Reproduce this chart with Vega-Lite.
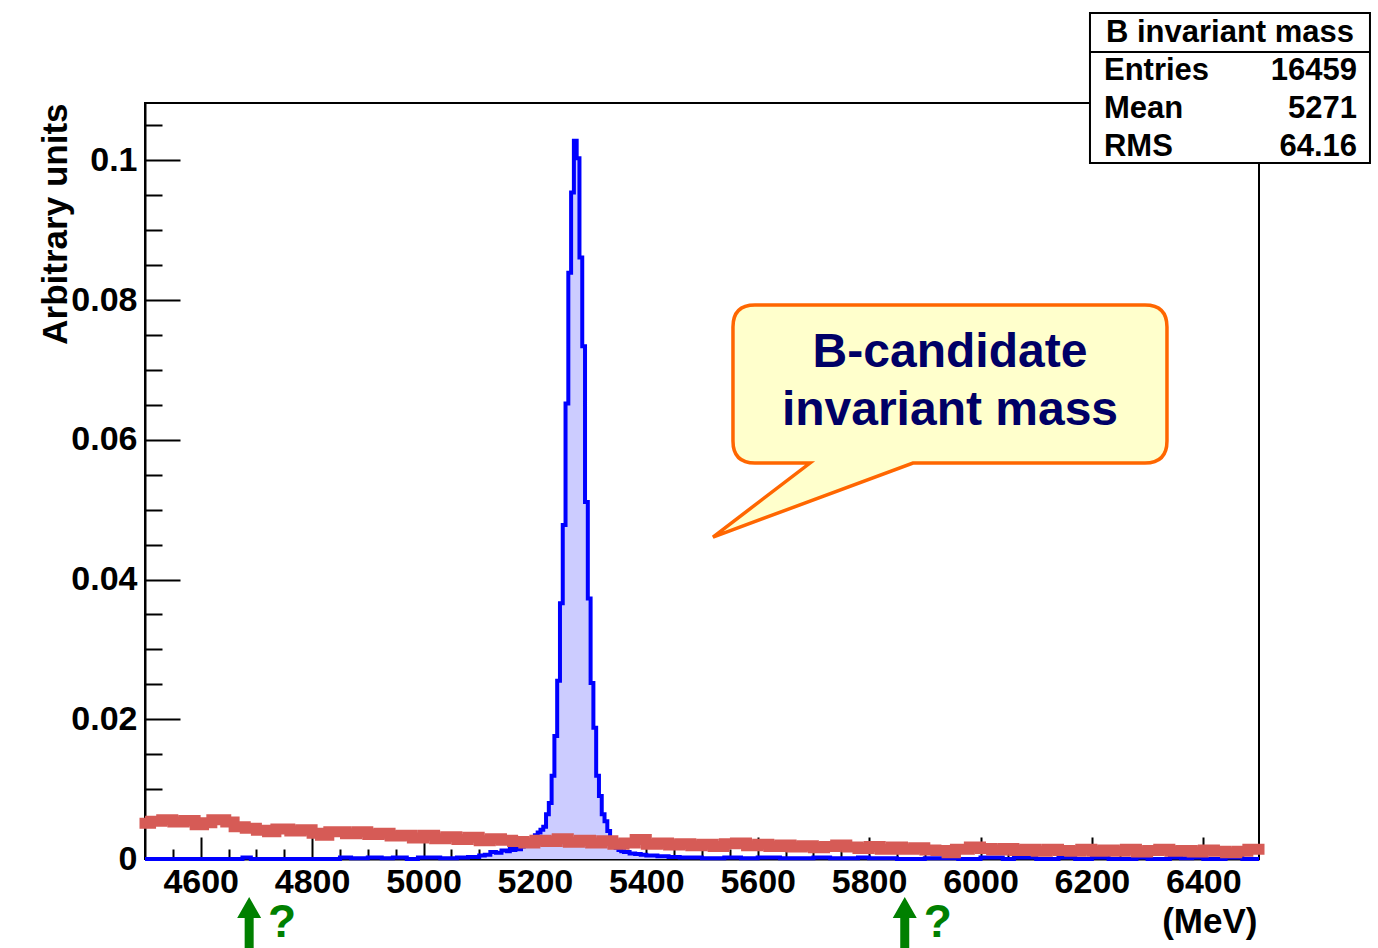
{
  "$schema": "https://vega.github.io/schema/vega-lite/v6.json",
  "width": 1114,
  "height": 756,
  "autosize": "none",
  "padding": {"left": 145, "top": 103, "right": 119, "bottom": 89},
  "background": "white",
  "config": {
    "font": "Liberation Sans",
    "view": {"stroke": "black", "strokeWidth": 2},
    "axis": {
      "grid": false,
      "domainColor": "black",
      "domainWidth": 2,
      "tickColor": "black",
      "tickWidth": 2,
      "labelFont": "Liberation Sans",
      "labelFontWeight": "bold",
      "labelFontSize": 34,
      "labelColor": "black",
      "labelOverlap": false,
      "labelFlush": false,
      "titleFont": "Liberation Sans",
      "titleFontWeight": "bold",
      "titleFontSize": 35,
      "titleColor": "black",
      "zindex": 1
    }
  },
  "datasets": {
    "signal": [
      {"mass": 4500, "content": 0},
      {"mass": 4675, "content": 0.0002},
      {"mass": 4690, "content": 0},
      {"mass": 4850, "content": 0.0002},
      {"mass": 4870, "content": 0.0001},
      {"mass": 4900, "content": 0.0002},
      {"mass": 4925, "content": 0.0001},
      {"mass": 4945, "content": 0.0002},
      {"mass": 4970, "content": 0},
      {"mass": 4990, "content": 0.0002},
      {"mass": 5030, "content": 0.0001},
      {"mass": 5060, "content": 0.0002},
      {"mass": 5080, "content": 0.0003},
      {"mass": 5100, "content": 0.0005},
      {"mass": 5110, "content": 0.0006},
      {"mass": 5120, "content": 0.001},
      {"mass": 5130, "content": 0.0009},
      {"mass": 5140, "content": 0.0012},
      {"mass": 5150, "content": 0.0011},
      {"mass": 5155, "content": 0.0015},
      {"mass": 5160, "content": 0.0013},
      {"mass": 5165, "content": 0.0016},
      {"mass": 5170, "content": 0.0014},
      {"mass": 5175, "content": 0.0018},
      {"mass": 5180, "content": 0.0019},
      {"mass": 5185, "content": 0.0022},
      {"mass": 5190, "content": 0.0026},
      {"mass": 5195, "content": 0.003},
      {"mass": 5200, "content": 0.0034},
      {"mass": 5205, "content": 0.0038},
      {"mass": 5210, "content": 0.0042},
      {"mass": 5215, "content": 0.0046},
      {"mass": 5220, "content": 0.0064},
      {"mass": 5225, "content": 0.008},
      {"mass": 5230, "content": 0.0119},
      {"mass": 5235, "content": 0.0176},
      {"mass": 5240, "content": 0.0255},
      {"mass": 5245, "content": 0.0366},
      {"mass": 5250, "content": 0.0478},
      {"mass": 5255, "content": 0.0652},
      {"mass": 5260, "content": 0.0839},
      {"mass": 5265, "content": 0.0954},
      {"mass": 5270, "content": 0.1028},
      {"mass": 5275, "content": 0.1003},
      {"mass": 5280, "content": 0.0861},
      {"mass": 5285, "content": 0.0734},
      {"mass": 5290, "content": 0.0511},
      {"mass": 5295, "content": 0.0373},
      {"mass": 5300, "content": 0.0252},
      {"mass": 5305, "content": 0.0188},
      {"mass": 5310, "content": 0.0119},
      {"mass": 5315, "content": 0.009},
      {"mass": 5320, "content": 0.0064},
      {"mass": 5325, "content": 0.0054},
      {"mass": 5330, "content": 0.004},
      {"mass": 5335, "content": 0.003},
      {"mass": 5340, "content": 0.0022},
      {"mass": 5345, "content": 0.0016},
      {"mass": 5350, "content": 0.0013},
      {"mass": 5355, "content": 0.0011},
      {"mass": 5360, "content": 0.001},
      {"mass": 5370, "content": 0.0008},
      {"mass": 5380, "content": 0.0007},
      {"mass": 5390, "content": 0.0006},
      {"mass": 5400, "content": 0.0005},
      {"mass": 5420, "content": 0.0004},
      {"mass": 5440, "content": 0.0003},
      {"mass": 5460, "content": 0.0002},
      {"mass": 5500, "content": 0.0001},
      {"mass": 5540, "content": 0.0002},
      {"mass": 5570, "content": 0.0001},
      {"mass": 5600, "content": 0.0002},
      {"mass": 5640, "content": 0.0001},
      {"mass": 5700, "content": 0.0002},
      {"mass": 5730, "content": 0.0001},
      {"mass": 5780, "content": 0.0002},
      {"mass": 5800, "content": 0.0001},
      {"mass": 5850, "content": 0},
      {"mass": 5900, "content": 0.0001},
      {"mass": 5960, "content": 0},
      {"mass": 6000, "content": 0.0002},
      {"mass": 6040, "content": 0},
      {"mass": 6060, "content": 0.0002},
      {"mass": 6100, "content": 0},
      {"mass": 6140, "content": 0.0002},
      {"mass": 6170, "content": 0},
      {"mass": 6200, "content": 0.0002},
      {"mass": 6230, "content": 0},
      {"mass": 6280, "content": 0.0002},
      {"mass": 6300, "content": 0},
      {"mass": 6340, "content": 0.0002},
      {"mass": 6360, "content": 0.0001},
      {"mass": 6380, "content": 0.0002},
      {"mass": 6400, "content": 0},
      {"mass": 6440, "content": 0.0002},
      {"mass": 6470, "content": 0},
      {"mass": 6500, "content": 0}
    ],
    "background": [
      {"mass": 4500, "content": 0.0051},
      {"mass": 4510, "content": 0.0054},
      {"mass": 4530, "content": 0.0056},
      {"mass": 4550, "content": 0.0053},
      {"mass": 4570, "content": 0.0055},
      {"mass": 4590, "content": 0.0049},
      {"mass": 4605, "content": 0.0052},
      {"mass": 4620, "content": 0.0056},
      {"mass": 4645, "content": 0.0053},
      {"mass": 4660, "content": 0.0046},
      {"mass": 4680, "content": 0.0044},
      {"mass": 4700, "content": 0.0041},
      {"mass": 4720, "content": 0.0039},
      {"mass": 4735, "content": 0.0043},
      {"mass": 4760, "content": 0.004},
      {"mass": 4780, "content": 0.0042},
      {"mass": 4800, "content": 0.0037},
      {"mass": 4815, "content": 0.0034},
      {"mass": 4830, "content": 0.0039},
      {"mass": 4860, "content": 0.0036},
      {"mass": 4880, "content": 0.0039},
      {"mass": 4900, "content": 0.0035},
      {"mass": 4920, "content": 0.0037},
      {"mass": 4940, "content": 0.0033},
      {"mass": 4960, "content": 0.0034},
      {"mass": 4980, "content": 0.003},
      {"mass": 5000, "content": 0.0034},
      {"mass": 5020, "content": 0.0029},
      {"mass": 5040, "content": 0.0032},
      {"mass": 5060, "content": 0.0028},
      {"mass": 5080, "content": 0.0031},
      {"mass": 5100, "content": 0.0026},
      {"mass": 5120, "content": 0.0029},
      {"mass": 5140, "content": 0.0027},
      {"mass": 5160, "content": 0.0025},
      {"mass": 5180, "content": 0.0023},
      {"mass": 5200, "content": 0.0027},
      {"mass": 5220, "content": 0.0025},
      {"mass": 5240, "content": 0.0029},
      {"mass": 5260, "content": 0.0024},
      {"mass": 5280, "content": 0.0027},
      {"mass": 5300, "content": 0.0023},
      {"mass": 5320, "content": 0.0026},
      {"mass": 5340, "content": 0.0021},
      {"mass": 5360, "content": 0.0023},
      {"mass": 5380, "content": 0.0028},
      {"mass": 5400, "content": 0.0021},
      {"mass": 5420, "content": 0.0023},
      {"mass": 5440, "content": 0.002},
      {"mass": 5460, "content": 0.0022},
      {"mass": 5480, "content": 0.0019},
      {"mass": 5500, "content": 0.0021},
      {"mass": 5520, "content": 0.0018},
      {"mass": 5540, "content": 0.0022},
      {"mass": 5560, "content": 0.0023},
      {"mass": 5580, "content": 0.0019},
      {"mass": 5600, "content": 0.0021},
      {"mass": 5620, "content": 0.0018},
      {"mass": 5640, "content": 0.002},
      {"mass": 5660, "content": 0.0017},
      {"mass": 5680, "content": 0.0019},
      {"mass": 5700, "content": 0.0016},
      {"mass": 5720, "content": 0.0018},
      {"mass": 5740, "content": 0.002},
      {"mass": 5760, "content": 0.0017},
      {"mass": 5780, "content": 0.0015},
      {"mass": 5800, "content": 0.0018},
      {"mass": 5820, "content": 0.0014},
      {"mass": 5840, "content": 0.0017},
      {"mass": 5860, "content": 0.0014},
      {"mass": 5880, "content": 0.0016},
      {"mass": 5900, "content": 0.0013},
      {"mass": 5920, "content": 0.0012},
      {"mass": 5940, "content": 0.0009},
      {"mass": 5955, "content": 0.0014},
      {"mass": 5980, "content": 0.0017},
      {"mass": 6000, "content": 0.0015},
      {"mass": 6020, "content": 0.0013},
      {"mass": 6040, "content": 0.0015},
      {"mass": 6060, "content": 0.0012},
      {"mass": 6080, "content": 0.0014},
      {"mass": 6100, "content": 0.0011},
      {"mass": 6120, "content": 0.0014},
      {"mass": 6140, "content": 0.0012},
      {"mass": 6160, "content": 0.0011},
      {"mass": 6180, "content": 0.0014},
      {"mass": 6200, "content": 0.0011},
      {"mass": 6220, "content": 0.0013},
      {"mass": 6240, "content": 0.0011},
      {"mass": 6260, "content": 0.0014},
      {"mass": 6280, "content": 0.001},
      {"mass": 6300, "content": 0.0012},
      {"mass": 6320, "content": 0.0014},
      {"mass": 6340, "content": 0.0011},
      {"mass": 6360, "content": 0.0012},
      {"mass": 6380, "content": 0.001},
      {"mass": 6400, "content": 0.0013},
      {"mass": 6420, "content": 0.0011},
      {"mass": 6440, "content": 0.0009},
      {"mass": 6460, "content": 0.0011},
      {"mass": 6480, "content": 0.0014},
      {"mass": 6500, "content": 0.0014}
    ],
    "stats": [
      {"stat": "Entries", "value": "16459"},
      {"stat": "Mean", "value": "5271"},
      {"stat": "RMS", "value": "64.16"}
    ],
    "cuts": [
      {"mass": 4687},
      {"mass": 5864}
    ]
  },
  "layer": [
    {
      "layer": [
        {
          "data": {"name": "signal"},
          "mark": {"type": "area", "interpolate": "step-after", "color": "#ccccff", "opacity": 1},
          "encoding": {
            "x": {
              "field": "mass", "type": "quantitative",
              "scale": {"domain": [4500, 6500], "nice": false, "zero": false},
              "axis": {
                "orient": "bottom",
                "values": [4600, 4800, 5000, 5200, 5400, 5600, 5800, 6000, 6200, 6400],
                "format": "d",
                "tickSize": -22,
                "labelPadding": 28,
                "title": "(MeV)",
                "titleAlign": "right",
                "titleBaseline": "middle",
                "titleX": 1112,
                "titleY": 62
              }
            },
            "y": {
              "field": "content", "type": "quantitative",
              "scale": {"domain": [0, 0.1082], "nice": false, "zero": true},
              "axis": {
                "orient": "left",
                "values": [0, 0.02, 0.04, 0.06, 0.08, 0.1],
                "format": "~g",
                "tickSize": -35,
                "labelPadding": 43,
                "title": "Arbitrary units",
                "titleAngle": -90,
                "titleAlign": "right",
                "titleBaseline": "middle",
                "titleX": -90,
                "titleY": 0
              }
            }
          }
        },
        {
          "data": {"name": "signal"},
          "mark": {"type": "line", "interpolate": "step-after", "color": "#0000ff", "strokeWidth": 4},
          "encoding": {
            "x": {
              "field": "mass", "type": "quantitative",
              "axis": {
                "orient": "bottom",
                "values": [4550, 4650, 4700, 4750, 4850, 4900, 4950, 5050, 5100, 5150, 5250, 5300, 5350, 5450, 5500, 5550, 5650, 5700, 5750, 5850, 5900, 5950, 6050, 6100, 6150, 6250, 6300, 6350, 6450],
                "tickSize": -10,
                "labels": false,
                "domain": false,
                "title": null
              }
            },
            "y": {
              "field": "content", "type": "quantitative",
              "axis": {
                "orient": "left",
                "values": [0.005, 0.01, 0.015, 0.025, 0.03, 0.035, 0.045, 0.05, 0.055, 0.065, 0.07, 0.075, 0.085, 0.09, 0.095, 0.105],
                "tickSize": -17,
                "labels": false,
                "domain": false,
                "title": null
              }
            }
          }
        },
        {
          "data": {"name": "background"},
          "mark": {"type": "line", "interpolate": "step-after", "color": "#d65b56", "strokeWidth": 11, "strokeCap": "square"},
          "encoding": {
            "x": {"field": "mass", "type": "quantitative", "axis": null},
            "y": {"field": "content", "type": "quantitative", "axis": null}
          }
        },
        {
          "data": {"values": [{}]},
          "mark": {
            "type": "point",
            "shape": "M -140 -75 L 140 -75 L 140 75 L -140 75 Z M -140 -36 L 140 -36",
            "size": 4,
            "filled": true,
            "fill": "white",
            "stroke": "black",
            "strokeWidth": 2,
            "opacity": 1
          },
          "encoding": {
            "x": {"datum": 6447.9, "type": "quantitative", "axis": null},
            "y": {"datum": 0.11034, "type": "quantitative", "axis": null}
          }
        },
        {
          "data": {"values": [{}]},
          "mark": {"type": "text", "text": "B invariant mass", "font": "Liberation Sans", "fontWeight": "bold", "fontSize": 31, "color": "black", "align": "center", "baseline": "middle"},
          "encoding": {
            "x": {"datum": 6447.9, "type": "quantitative", "axis": null},
            "y": {"datum": 0.1182, "type": "quantitative", "axis": null}
          }
        },
        {
          "data": {"values": [{}]},
          "mark": {
            "type": "point",
            "shape": "M -195 -77 L 195 -77 Q 217 -77 217 -55 L 217 59 Q 217 81 195 81 L -37 81 L -237 155 L -140 81 L -195 81 Q -217 81 -217 59 L -217 -55 Q -217 -77 -195 -77 Z",
            "size": 4,
            "filled": true,
            "fill": "#ffffcc",
            "stroke": "#ff6600",
            "strokeWidth": 3.5,
            "strokeJoin": "miter",
            "opacity": 1
          },
          "encoding": {
            "x": {"datum": 5945.2, "type": "quantitative", "axis": null},
            "y": {"datum": 0.06826, "type": "quantitative", "axis": null}
          }
        },
        {
          "data": {"values": [{}]},
          "mark": {"type": "text", "text": ["B-candidate", "invariant mass"], "lineHeight": 58, "font": "Liberation Sans", "fontWeight": "bold", "fontSize": 48, "color": "#000066", "align": "center", "baseline": "middle"},
          "encoding": {
            "x": {"datum": 5945.2, "type": "quantitative", "axis": null},
            "y": {"datum": 0.07242, "type": "quantitative", "axis": null}
          }
        },
        {
          "data": {"name": "cuts"},
          "mark": {
            "type": "point",
            "shape": "M 0 0 L 12 21 L 4.5 21 L 4.5 60 L -4.5 60 L -4.5 21 L -12 21 Z",
            "size": 4,
            "filled": true,
            "color": "#008000",
            "opacity": 1
          },
          "encoding": {
            "x": {"field": "mass", "type": "quantitative", "axis": null},
            "y": {"datum": -0.00544, "type": "quantitative", "axis": null}
          }
        },
        {
          "data": {"name": "cuts"},
          "mark": {"type": "text", "text": "?", "font": "Liberation Sans", "fontWeight": "bold", "fontSize": 46, "color": "#008000", "align": "center", "baseline": "bottom", "dx": 33},
          "encoding": {
            "x": {"field": "mass", "type": "quantitative", "axis": null},
            "y": {"datum": -0.01259, "type": "quantitative", "axis": null}
          }
        }
      ],
      "resolve": {"axis": {"x": "independent", "y": "independent"}}
    },
    {
      "data": {"name": "stats"},
      "encoding": {
        "y": {
          "field": "stat", "type": "nominal", "sort": null, "axis": null,
          "scale": {"type": "point", "range": [-32, 44], "padding": 0}
        }
      },
      "layer": [
        {
          "mark": {"type": "text", "font": "Liberation Sans", "fontWeight": "bold", "fontSize": 31, "color": "black", "align": "left", "baseline": "middle"},
          "encoding": {
            "x": {"datum": 6221.7, "type": "quantitative", "axis": null},
            "text": {"field": "stat"}
          }
        },
        {
          "mark": {"type": "text", "font": "Liberation Sans", "fontWeight": "bold", "fontSize": 31, "color": "black", "align": "right", "baseline": "middle"},
          "encoding": {
            "x": {"datum": 6675.9, "type": "quantitative", "axis": null},
            "text": {"field": "value"}
          }
        }
      ]
    }
  ],
  "resolve": {"scale": {"y": "independent"}}
}
